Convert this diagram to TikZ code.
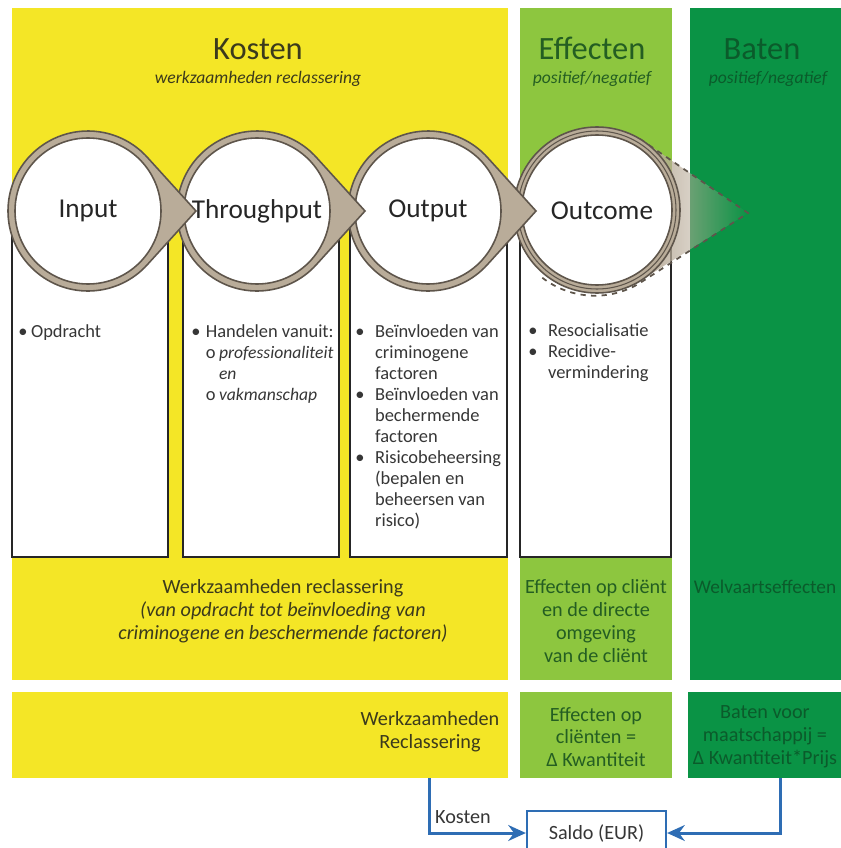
\documentclass[tikz,border=0pt]{standalone}
\usepackage{fontspec}
\setmainfont{Carlito}
\usetikzlibrary{positioning,arrows.meta,fadings}

\definecolor{kostgeel}{HTML}{F4E626}
\definecolor{effgroen}{HTML}{8DC63F}
\definecolor{batgroen}{HTML}{0A9345}
\definecolor{ringbeige}{HTML}{B9AC99}
\definecolor{ringrand}{HTML}{5E554B}
\definecolor{pijlblauw}{HTML}{2E6DB4}
\definecolor{tekstgrijs}{HTML}{363636}
\definecolor{geeltekst}{HTML}{3B3A1C}
\definecolor{effkop}{HTML}{245E22}
\definecolor{batkop}{HTML}{0B5B2B}

\tikzfading[name=naaroost, left color=transparent!0, right color=transparent!100]

\tikzset{
  ring/.style={fill=ringbeige, draw=ringrand, line width=0.9pt},
  kern/.style={fill=white, draw=ringrand, line width=0.9pt},
  fasetekst/.style={font=\fontsize{15.5}{17}\selectfont, text=black!85},
  kolom/.style={fill=white, draw=black!85, line width=1.3pt},
  lijst/.style={anchor=north west, inner sep=0pt, text=tekstgrijs,
    font=\fontsize{10.5}{12}\selectfont},
  kop/.style={anchor=base, inner sep=0pt, font=\fontsize{18.5}{20}\selectfont},
  subkop/.style={anchor=base, inner sep=0pt, font=\fontsize{10}{11}\selectfont\itshape},
  paneeltekst/.style={align=center, inner sep=0pt, font=\fontsize{11.5}{13}\selectfont},
  paneel/.style={inner sep=0pt, minimum height=1.72cm},
  stroom/.style={draw=pijlblauw, line width=1.7pt, -{Stealth[length=10pt,width=9pt]}},
}

% cirkel met punt naar rechts
\newcommand{\fase}[3]{%
  \filldraw[ring] (#1,211) ++(42:80) arc[start angle=42, end angle=318, radius=80]
    -- (#1+108,211) -- cycle;
  \filldraw[kern] (#1,211) circle[radius=73];
  \node[fasetekst] (#2) at (#1,211) {#3};
}
\newcommand{\ondrpunt}[1]{{\fontsize{10}{12}\selectfont\itshape #1}}

\begin{document}
\begin{tikzpicture}[x=0.02cm, y=-0.02cm]
  \useasboundingbox (0,0) rectangle (841,848);
  \clip (0,0) rectangle (841,848);
  \fill[white] (0,0) rectangle (841,848);

  % Vlakken
  \fill[kostgeel] (12,8) rectangle (508,680);
  \fill[effgroen] (520,8) rectangle (672,680);
  \fill[batgroen] (690,8) rectangle (850,680);

  % Koppen
  \node[kop, text=geeltekst] (kosten) at (258,60) {Kosten};
  \node[subkop, text=geeltekst] (kostensub) at (258,84) {werkzaamheden reclassering};
  \node[kop, text=effkop] (effecten) at (592,60) {Effecten};
  \node[subkop, text=effkop] (effectensub) at (592,84) {positief/negatief};
  \node[kop, text=batkop] (baten) at (762,60) {Baten};
  \node[subkop, text=batkop] (batensub) at (768,84) {positief/negatief};

  % Kolommen
  \draw[kolom] (12,211) rectangle (168,557);
  \draw[kolom] (183,211) rectangle (339,557);
  \draw[kolom] (350,211) rectangle (507,557);
  \draw[kolom] (520,211) rectangle (671,557);

  % Outcome met gestippelde punt
  \fill[ringbeige, path fading=naaroost] (643,141) -- (748,213) -- (643,279) -- cycle;
  \draw[ringrand, dashed, line width=1pt] (640,139) -- (748,213) -- (643,281)
    arc[start angle=56, end angle=128, radius=86];
  \filldraw[ring] (597,210) circle[radius=83];
  \draw[ringrand, line width=0.6pt] (597,210) circle[radius=79];
  \filldraw[kern] (597,210) circle[radius=75];
  \node[fasetekst] (outcome) at (602,211) {Outcome};

  \fase{428}{output}{Output}
  \fase{257}{throughput}{Throughput}
  \fase{88}{input}{Input}

  % Lijsten
  \node[lijst] (opdrachtlijst) at (18,322) {%
    \begin{tabular}{@{}l@{\hspace{2pt}}l@{}}
      • & Opdracht
    \end{tabular}};
  \node[lijst] (handelenlijst) at (191,322) {%
    \begin{tabular}{@{}l@{\hspace{3pt}}l@{\hspace{2pt}}l@{}}
      • & \multicolumn{2}{@{}l@{}}{Handelen vanuit:}\\
        & o & \ondrpunt{professionaliteit}\\
        &   & \ondrpunt{en}\\
        & o & \ondrpunt{vakmanschap}
    \end{tabular}};
  \node[lijst] (beinvloedlijst) at (355,322) {%
    \begin{tabular}{@{}l@{\hspace{6pt}}l@{}}
      • & Beïnvloeden van\\
        & criminogene\\
        & factoren\\
      • & Beïnvloeden van\\
        & bechermende\\
        & factoren\\
      • & Risicobeheersing\\
        & (bepalen en\\
        & beheersen van\\
        & risico)
    \end{tabular}};
  \node[lijst] (effectlijst) at (528,321) {%
    \begin{tabular}{@{}l@{\hspace{6pt}}l@{}}
      • & Resocialisatie\\
      • & Recidive-\\
        & vermindering
    \end{tabular}};

  % Teksten onderin de vlakken
  \node[paneeltekst, text=geeltekst] (werkomschr) at (283,611)
    {Werkzaamheden reclassering\\
     \textit{(van opdracht tot beïnvloeding van}\\
     \textit{criminogene en beschermende factoren)}};
  \node[paneeltekst, text=effkop] (effomschr) at (596,621)
    {Effecten op cliënt\\ en de directe\\ omgeving\\ van de cliënt};
  \node[paneeltekst, text=batkop, font=\fontsize{11}{13}\selectfont] (welvaart) at (765,587)
    {Welvaartseffecten};

  % Onderste rij
  \node[paneel, fill=kostgeel, minimum width=9.92cm] (werkpaneel) at (260,735) {};
  \node[paneel, fill=effgroen, minimum width=3.04cm] (effpaneel) at (596,735) {};
  \node[paneel, fill=batgroen, minimum width=3.24cm] (batpaneel) at (769,735) {};
  \node[paneeltekst, text=geeltekst] (werklabel) at (430,732)
    {Werkzaamheden\\ Reclassering};
  \node[paneeltekst, text=effkop] (efflabel) at (596,737)
    {Effecten op\\ cliënten =\\ Δ Kwantiteit};
  \node[paneeltekst, text=batkop] (batlabel) at (765,737)
    {Baten voor\\ maatschappij =\\ Δ Kwantiteit*Prijs};

  % Saldo
  \node[draw=pijlblauw, line width=1.3pt, fill=white, minimum width=2.78cm,
    minimum height=0.88cm, font=\fontsize{11.5}{13}\selectfont, text=tekstgrijs]
    (saldo) at (596.5,833) {Saldo (EUR)};
  \node[font=\fontsize{11.5}{13}\selectfont, text=tekstgrijs] (kostenlabel) at (463,817) {Kosten};

  % Verbindingen
  \draw[stroom] ([xshift=3.4cm]werkpaneel.south) |- (saldo.west);
  \draw[stroom] ([xshift=0.22cm]batpaneel.south) |- (saldo.east);
\end{tikzpicture}
\end{document}
